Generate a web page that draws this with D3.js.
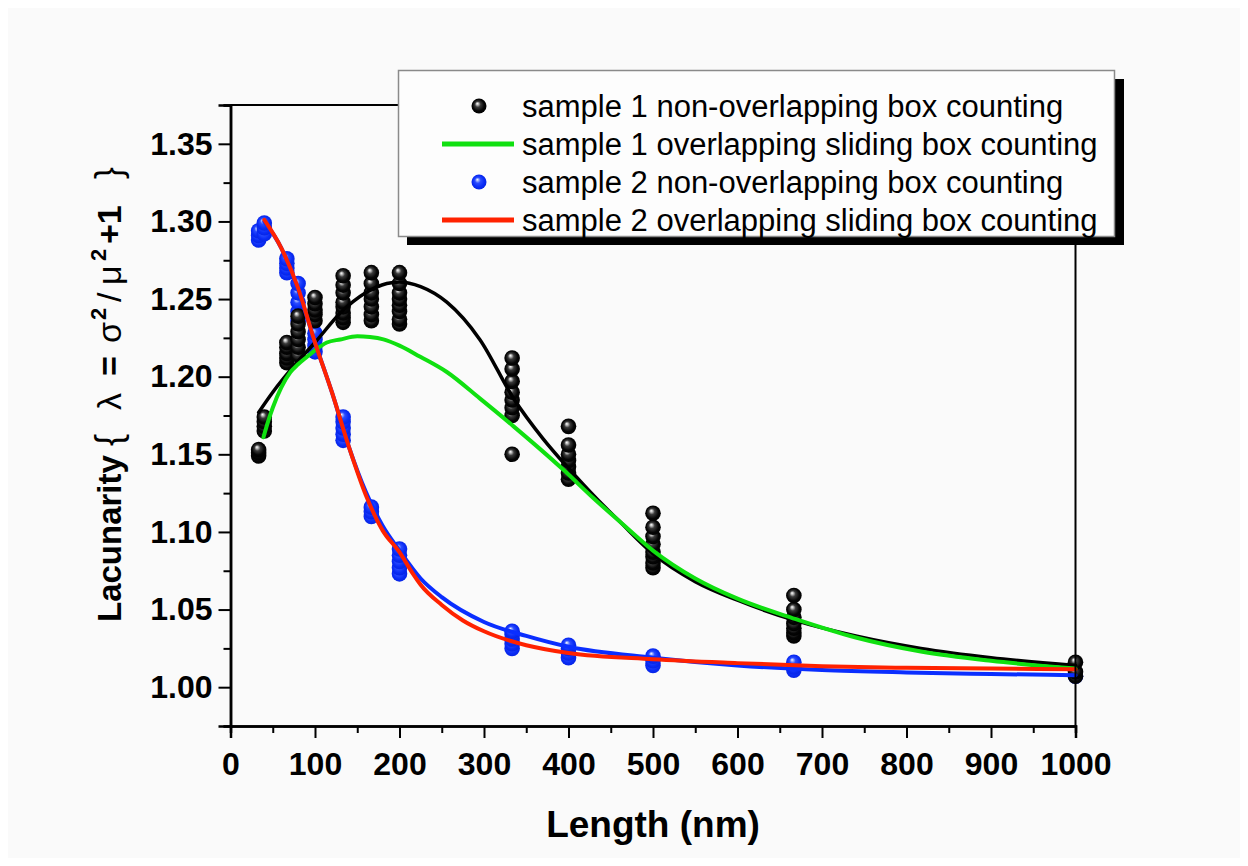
<!DOCTYPE html>
<html>
<head>
<meta charset="utf-8">
<script src="https://cdnjs.cloudflare.com/ajax/libs/d3/7.8.5/d3.min.js"></script>
<style>
  html, body { margin: 0; padding: 0; background: #ffffff; }
  svg { display: block; }
</style>
</head>
<body>
<svg id="chart" width="1248" height="866"></svg>
<script>
// ---------------- DATA ----------------
const boxSizes = [33.3, 40, 66.7, 80, 100, 133.3, 166.7, 200, 333.3, 400, 500, 666.7, 1000];

const sample1Points = [
  [1.149, 1.151, 1.153],
  [1.165, 1.168, 1.171, 1.174],
  [1.209, 1.212, 1.215, 1.219, 1.222],
  [1.214, 1.219, 1.224, 1.229, 1.234, 1.239],
  [1.236, 1.240, 1.243, 1.247, 1.251],
  [1.235, 1.238, 1.241, 1.245, 1.248, 1.254, 1.259, 1.265],
  [1.236, 1.240, 1.245, 1.250, 1.254, 1.260, 1.267],
  [1.234, 1.237, 1.242, 1.246, 1.250, 1.254, 1.260, 1.267],
  [1.150, 1.175, 1.180, 1.185, 1.190, 1.197, 1.205, 1.212],
  [1.134, 1.138, 1.142, 1.146, 1.150, 1.156, 1.168],
  [1.077, 1.080, 1.084, 1.087, 1.092, 1.097, 1.103, 1.112],
  [1.033, 1.035, 1.038, 1.041, 1.045, 1.050, 1.059],
  [1.007, 1.010, 1.016]
];

const sample2Points = [
  [1.288, 1.291, 1.294],
  [1.292, 1.296, 1.299],
  [1.267, 1.270, 1.273, 1.276],
  [1.236, 1.242, 1.248, 1.254, 1.260],
  [1.216, 1.220, 1.224, 1.228],
  [1.159, 1.163, 1.167, 1.171, 1.174],
  [1.110, 1.113, 1.116],
  [1.073, 1.077, 1.081, 1.085, 1.089],
  [1.025, 1.028, 1.031, 1.034, 1.036],
  [1.019, 1.022, 1.025, 1.027],
  [1.014, 1.017, 1.020],
  [1.011, 1.013, 1.016],
  [1.007]
];

// sample 1 fit (black)
const fit1X = [33.3, 50, 80, 100, 130, 160, 185, 200, 225, 256, 295, 335, 370, 400, 434, 460, 500, 550, 600, 668, 740, 817, 900, 1000];
const fit1Y = [1.177, 1.190, 1.210, 1.222, 1.241, 1.254, 1.260, 1.261, 1.258, 1.248, 1.224, 1.186, 1.160, 1.141, 1.121, 1.107, 1.086, 1.068, 1.056, 1.043, 1.033, 1.025, 1.019, 1.014];

// sample 1 overlapping sliding box counting (green)
const slide1X = [39, 45, 50, 60, 71, 80, 91, 100, 114, 130, 150, 165, 181, 200, 224, 256, 295, 335, 394, 429, 460, 500, 550, 600, 668, 740, 817, 900, 1000];
const slide1Y = [1.161, 1.172, 1.180, 1.193, 1.203, 1.208, 1.213, 1.217, 1.222, 1.224, 1.226, 1.2255, 1.224, 1.220, 1.213, 1.203, 1.186, 1.168, 1.140, 1.122, 1.107, 1.088, 1.070, 1.057, 1.044, 1.032, 1.023, 1.017, 1.012];

// sample 2 fit (blue)
const fit2X = [40, 60, 80, 100, 120, 140, 160, 180, 200, 225, 250, 300, 350, 400, 500, 600, 700, 800, 900, 1000];
const fit2Y = [1.300, 1.283, 1.256, 1.222, 1.190, 1.155, 1.126, 1.104, 1.088, 1.070, 1.058, 1.042, 1.033, 1.026, 1.019, 1.014, 1.011, 1.0095, 1.0085, 1.0077];

// sample 2 overlapping sliding box counting (red)
const slide2X = [40, 60, 80, 100, 120, 140, 160, 180, 200, 216, 225, 250, 275, 300, 350, 400, 500, 600, 700, 800, 900, 1000];
const slide2Y = [1.301, 1.283, 1.257, 1.222, 1.190, 1.155, 1.124, 1.101, 1.087, 1.073, 1.066, 1.053, 1.043, 1.036, 1.027, 1.022, 1.018, 1.0155, 1.0135, 1.0125, 1.012, 1.0116];

const xTicks = [0, 100, 200, 300, 400, 500, 600, 700, 800, 900, 1000];
const yTicks = [1.00, 1.05, 1.10, 1.15, 1.20, 1.25, 1.30, 1.35];

const legendLabels = [
  "sample 1 non-overlapping box counting",
  "sample 1 overlapping sliding box counting",
  "sample 2 non-overlapping box counting",
  "sample 2 overlapping sliding box counting"
];

// ---------------- CHART ----------------
(function () {
const svg = d3.select("#chart");
const W = 1248, H = 866;
const pL = 230.5, pR = 1075.5, pT = 105, pB = 726;
const FONT = "'Liberation Sans', Arial, sans-serif";

const GREEN = "#10e010", RED = "#ff2200", BLUE = "#0a2eff";

svg.append("rect").attr("x", 0).attr("y", 0).attr("width", W).attr("height", H).attr("fill", "#ffffff");
svg.append("rect").attr("x", 8).attr("y", 8).attr("width", W - 16).attr("height", H - 16).attr("fill", "#fafafa");

const defs = svg.append("defs");
function sphereGrad(id, stops) {
  const g = defs.append("radialGradient").attr("id", id)
    .attr("cx", "50%").attr("cy", "50%").attr("r", "55%")
    .attr("fx", "38%").attr("fy", "33%");
  stops.forEach(s => g.append("stop").attr("offset", s[0]).attr("stop-color", s[1]));
}
sphereGrad("gBlack", [["0%", "#ffffff"], ["14%", "#bdbdbd"], ["35%", "#3a3a3a"], ["70%", "#050505"], ["100%", "#000000"]]);
sphereGrad("gBlue", [["0%", "#ffffff"], ["14%", "#9fb2ff"], ["35%", "#2a4bff"], ["70%", "#0a2cf5"], ["100%", "#0522e0"]]);

const x = d3.scaleLinear().domain([0, 1000]).range([pL, pR]);
const y = d3.scaleLinear().domain([0.975, 1.375]).range([pB, pT]);

const plot = svg.append("g");

function drawPoints(data, fill) {
  const flat = [];
  data.forEach((vals, i) => vals.forEach(v => flat.push({ x: boxSizes[i], v })));
  plot.append("g").selectAll("circle").data(flat).join("circle")
    .attr("cx", d => x(d.x)).attr("cy", d => y(d.v)).attr("r", 7.8)
    .attr("fill", fill);
}
drawPoints(sample2Points, "url(#gBlue)");
drawPoints(sample1Points, "url(#gBlack)");

const line = d3.line().x(d => x(d[0])).y(d => y(d[1])).curve(d3.curveMonotoneX);
function drawLine(xs, ys, color, w) {
  plot.append("path").datum(xs.map((v, i) => [v, ys[i]]))
    .attr("d", line).attr("fill", "none").attr("stroke", color)
    .attr("stroke-width", w).attr("stroke-linejoin", "round").attr("stroke-linecap", "round");
}
drawLine(fit1X, fit1Y, "#000000", 3.5);
drawLine(fit2X, fit2Y, BLUE, 4);
drawLine(slide1X, slide1Y, GREEN, 4);
drawLine(slide2X, slide2Y, RED, 4);

svg.append("line").attr("x1", pL).attr("x2", pR).attr("y1", pT).attr("y2", pT).attr("stroke", "#000").attr("stroke-width", 2);
svg.append("line").attr("x1", pR).attr("x2", pR).attr("y1", pT).attr("y2", pB).attr("stroke", "#000").attr("stroke-width", 2);

const xAxis = d3.axisBottom(x).tickValues(xTicks).tickFormat(d3.format("d")).tickSize(12).tickPadding(14);
const xMinor = d3.axisBottom(x).tickValues(d3.range(50, 1000, 100)).tickFormat("").tickSize(7);
const yAxis = d3.axisLeft(y).tickValues(yTicks).tickFormat(d3.format(".2f")).tickSize(12).tickPadding(6);
const yMinor = d3.axisLeft(y).tickValues([0.975, 1.025, 1.075, 1.125, 1.175, 1.225, 1.275, 1.325, 1.375]).tickFormat("").tickSize(7);

function styleAxis(g) {
  g.select(".domain").attr("stroke", "#000").attr("stroke-width", 2.5);
  g.selectAll(".tick line").attr("stroke", "#000").attr("stroke-width", 2);
  g.selectAll(".tick text").attr("fill", "#000")
    .style("font-family", FONT)
    .style("font-weight", "bold").style("font-size", "32px");
}
svg.append("g").attr("transform", `translate(0,${pB})`).call(xMinor).call(styleAxis);
svg.append("g").attr("transform", `translate(0,${pB})`).call(xAxis).call(styleAxis);
svg.append("g").attr("transform", `translate(${pL},0)`).call(yMinor).call(styleAxis);
svg.append("g").attr("transform", `translate(${pL},0)`).call(yAxis).call(styleAxis);

svg.append("text").attr("x", 653).attr("y", 837).attr("text-anchor", "middle")
  .style("font-family", FONT).style("font-weight", "bold").style("font-size", "37px")
  .text("Length (nm)");

// y title, laid out piece by piece along the rotated baseline
const yt = svg.append("text").attr("transform", "translate(121,622) rotate(-90)")
  .style("font-family", FONT).style("font-size", "33px").attr("fill", "#000");
const parts = [
  ["Lacunarity", 0, 0, "bold", 33],
  ["{", 176, 0, "normal", 36],
  ["λ", 212, 0, "normal", 34],
  ["=", 246, 0, "bold", 34],
  ["σ", 279, 0, "normal", 34],
  ["2", 302, -15, "bold", 22],
  ["/", 320, 0, "normal", 34],
  ["μ", 337, 0, "normal", 34],
  ["2", 361, -15, "bold", 22],
  ["+1", 378, 0, "bold", 34],
  ["}", 443, 0, "normal", 36]
];
parts.forEach(p => {
  yt.append("tspan").attr("x", p[1]).attr("y", p[2])
    .style("font-weight", p[3]).style("font-size", p[4] + "px").text(p[0]);
});

const lg = svg.append("g");
lg.append("rect").attr("x", 407).attr("y", 79).attr("width", 717).attr("height", 166).attr("fill", "#000");
lg.append("rect").attr("x", 398.5).attr("y", 70.5).attr("width", 716).attr("height", 166)
  .attr("fill", "#fdfdfd").attr("stroke", "#8a8a8a").attr("stroke-width", 1.5);

legendLabels.forEach((lab, i) => {
  const cy = 106 + i * 38;
  if (i === 0 || i === 2) {
    lg.append("circle").attr("cx", 479).attr("cy", cy).attr("r", 7.5)
      .attr("fill", i === 0 ? "url(#gBlack)" : "url(#gBlue)");
  } else {
    lg.append("line").attr("x1", 442).attr("x2", 514).attr("y1", cy).attr("y2", cy)
      .attr("stroke", i === 1 ? GREEN : RED).attr("stroke-width", 5);
  }
  lg.append("text").attr("x", 522).attr("y", cy + 11)
    .style("font-family", FONT).style("font-size", "31px").attr("fill", "#000")
    .text(lab);
});
})();
</script>
</body>
</html>
